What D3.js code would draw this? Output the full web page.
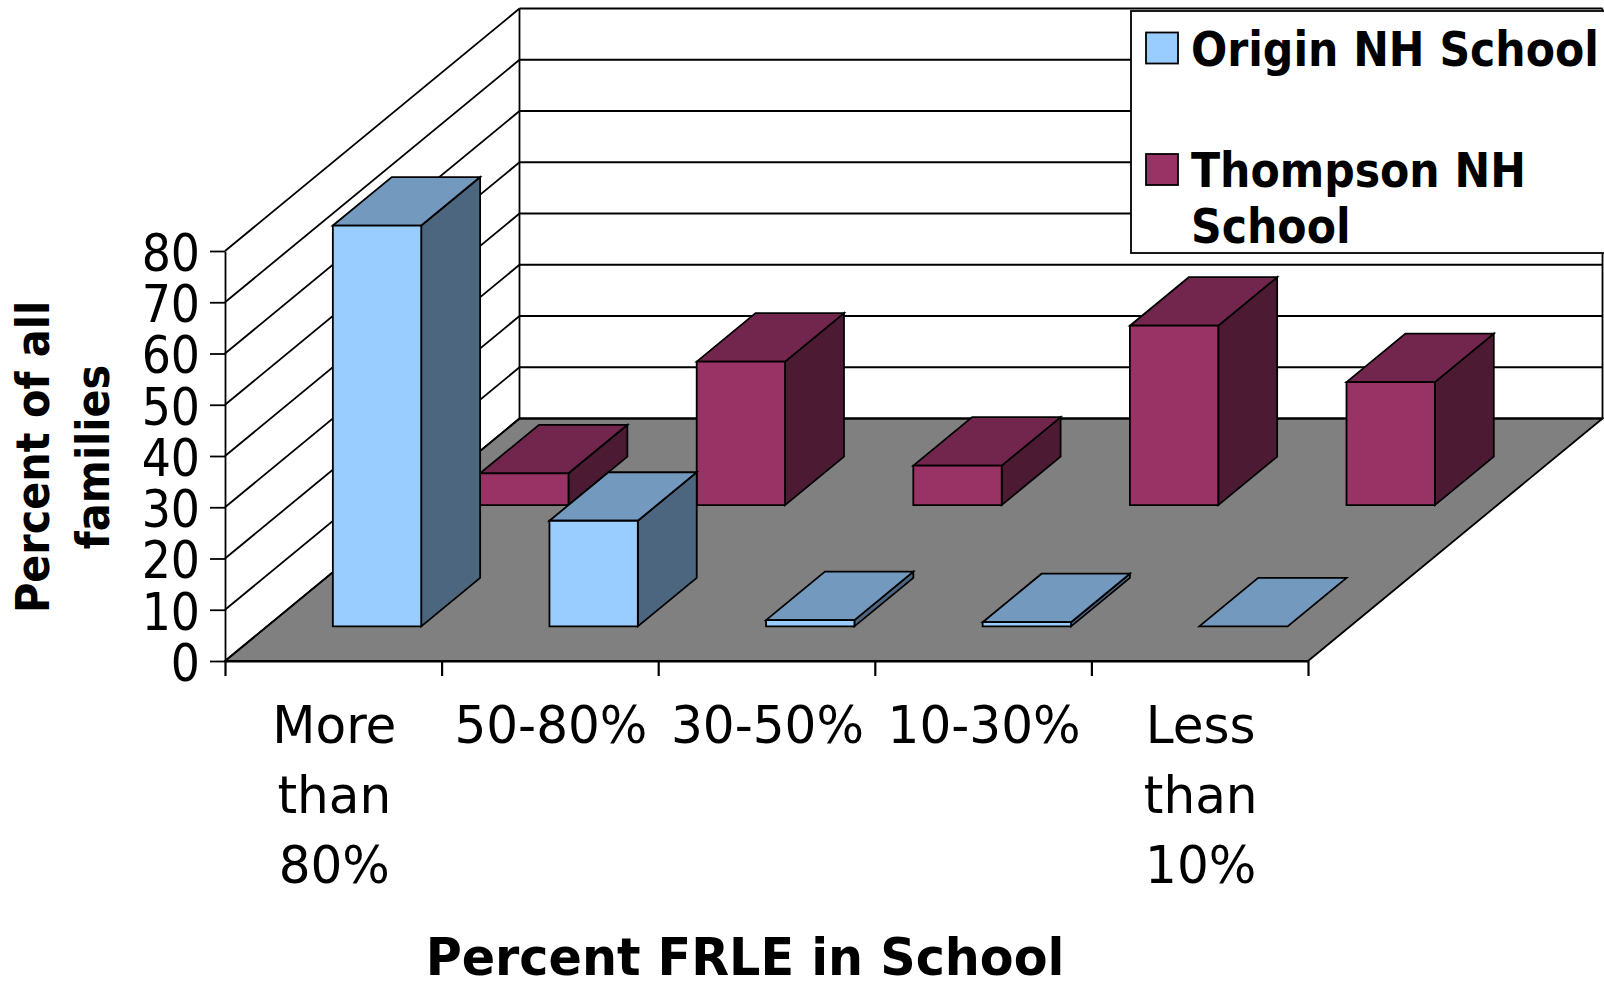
<!DOCTYPE html>
<html>
<head>
<meta charset="utf-8">
<title>Percent FRLE in School</title>
<script src="https://cdn.jsdelivr.net/npm/d3@7"></script>
<style>
  body { margin: 0; background: #fff; }
  text { font-family: "DejaVu Sans Condensed", "DejaVu Sans", sans-serif; font-stretch: condensed; fill: #000; }
</style>
</head>
<body>
<div id="chart"></div>
<script>
// 3D column chart - two series standing one behind the other on a grey floor

const categories = ["More than 80%", "50-80%", "30-50%", "10-30%", "Less than 10%"];
const seriesNames = ["Thompson NH School", "Origin NH School"]; // back row first
const originValues = [78.2, 20.6, 1.2, 0.8, 0];
const thompsonValues = [6.2, 28, 7.7, 35, 24];
const yTicks = [0, 10, 20, 30, 40, 50, 60, 70, 80];

const width = 1604;
const height = 981;

const seriesValues = { "Origin NH School": originValues, "Thompson NH School": thompsonValues };
const seriesColors = {
  "Origin NH School": { front: "#99ccff", top: "#7399bf", side: "#4d6680" },
  "Thompson NH School": { front: "#993366", top: "#73264d", side: "#4d1a33" }
};

const svg = d3.select("#chart")
  .append("svg")
  .attr("width", width)
  .attr("height", height)
  .style("display", "block");

const x = d3.scaleLinear().domain([0, categories.length]).range([225, 1308]);
const y = d3.scaleLinear().domain([0, 80]).range([661, 251]);
// depth runs from the front edge of the floor (0) to the back wall (1)
const depth = { dx: 294.5, dy: -242.5 };
const zBand = d3.scaleBand()
  .domain(["Origin NH School", "Thompson NH School"])
  .range([-0.004, 0.99])
  .paddingInner(0.6)
  .paddingOuter(0.294);

function pt(xv, v, z) {
  return [x(xv) + depth.dx * z, y(v) + depth.dy * z];
}
function poly(points) {
  return "M" + points.map(p => p.join(",")).join("L") + "Z";
}

const stroke = "#000";
const lineW = 1.8;

// walls and floor
const walls = svg.append("g");
walls.append("path")
  .attr("d", poly([pt(0, 0, 0), pt(0, 0, 1), pt(5, 0, 1), pt(5, 0, 0)]))
  .attr("fill", "#808080")
  .attr("stroke", stroke)
  .attr("stroke-width", lineW);

walls.selectAll(".grid-side")
  .data(yTicks)
  .join("line")
  .attr("class", "grid-side")
  .attr("x1", d => pt(0, d, 0)[0])
  .attr("y1", d => pt(0, d, 0)[1])
  .attr("x2", d => pt(0, d, 1)[0])
  .attr("y2", d => pt(0, d, 1)[1])
  .attr("stroke", stroke)
  .attr("stroke-width", lineW);

walls.selectAll(".grid-back")
  .data(yTicks)
  .join("line")
  .attr("class", "grid-back")
  .attr("x1", d => pt(0, d, 1)[0])
  .attr("y1", d => pt(0, d, 1)[1])
  .attr("x2", d => pt(5, d, 1)[0])
  .attr("y2", d => pt(5, d, 1)[1])
  .attr("stroke", stroke)
  .attr("stroke-width", lineW);

[0, 5].forEach(c => {
  walls.append("line")
    .attr("x1", pt(c, 0, 1)[0])
    .attr("y1", pt(c, 0, 1)[1])
    .attr("x2", pt(c, 80, 1)[0])
    .attr("y2", pt(c, 80, 1)[1])
    .attr("stroke", stroke)
    .attr("stroke-width", lineW);
});

// axes
const yAxis = svg.append("g")
  .attr("transform", `translate(${x(0)},0)`)
  .call(d3.axisLeft(y).tickValues(yTicks).tickSize(15).tickSizeOuter(0).tickPadding(10));
yAxis.selectAll("path, line").attr("stroke", stroke).attr("stroke-width", lineW);
yAxis.selectAll("text")
  .attr("font-size", 51)
  .attr("dy", "0.38em")
  .style("font-family", '"DejaVu Sans Condensed", "DejaVu Sans", sans-serif');

const xAxis = svg.append("g")
  .attr("transform", `translate(0,${y(0)})`)
  .call(d3.axisBottom(x).tickValues(d3.range(categories.length + 1)).tickSize(15).tickSizeOuter(0).tickFormat(""));
xAxis.selectAll("path, line").attr("stroke", stroke).attr("stroke-width", 2.2);

// columns, back row first so the front row paints over it
const barStart = 0.3035;
const barEnd = 0.7115;
function drawBar(g, i, value, name) {
  const c = seriesColors[name];
  const z0 = zBand(name);
  const z1 = z0 + zBand.bandwidth();
  const xa = i + barStart;
  const xb = i + barEnd;
  const faces = [
    { pts: [pt(xb, 0, z0), pt(xb, 0, z1), pt(xb, value, z1), pt(xb, value, z0)], fill: c.side },
    { pts: [pt(xa, value, z0), pt(xa, value, z1), pt(xb, value, z1), pt(xb, value, z0)], fill: c.top },
    { pts: [pt(xa, 0, z0), pt(xb, 0, z0), pt(xb, value, z0), pt(xa, value, z0)], fill: c.front }
  ];
  g.selectAll("path")
    .data(value > 0 ? faces : faces.slice(1, 2))
    .join("path")
    .attr("d", d => poly(d.pts))
    .attr("fill", d => d.fill)
    .attr("stroke", stroke)
    .attr("stroke-width", lineW)
    .attr("stroke-linejoin", "miter");
}

seriesNames.forEach(name => {
  seriesValues[name].forEach((v, i) => {
    drawBar(svg.append("g").attr("class", "bar"), i, v, name);
  });
});

// category labels, wrapped word by word and widened a little
categories.forEach((cat, i) => {
  svg.selectAll(".cat-" + i)
    .data(cat.split(" "))
    .join("text")
    .attr("class", "cat-" + i)
    .attr("text-anchor", "middle")
    .attr("font-size", 52)
    .attr("transform", (w, j) => `translate(${x(i + 0.5) + 1},${743 + j * 70}) scale(1.07,1)`)
    .text(w => w);
});

svg.append("text")
  .attr("transform", "translate(745,975) scale(1.052,1)")
  .attr("text-anchor", "middle")
  .attr("font-size", 52)
  .attr("font-weight", 700)
  .text("Percent FRLE in School");

const yTitle = svg.append("text")
  .attr("transform", "translate(0,457) rotate(-90)")
  .attr("text-anchor", "middle")
  .attr("font-size", 46)
  .attr("font-weight", 700);
yTitle.append("tspan").attr("x", 0).attr("y", 49).text("Percent of all");
yTitle.append("tspan").attr("x", 0).attr("y", 109).text("families");

// legend
const legend = svg.append("g");
legend.append("rect")
  .attr("x", 1131)
  .attr("y", 11)
  .attr("width", 480)
  .attr("height", 242)
  .attr("fill", "#fff")
  .attr("stroke", stroke)
  .attr("stroke-width", lineW);

const legendNames = ["Origin NH School", "Thompson NH School"];
const legendSwatchY = [32.5, 154];
legendNames.forEach((name, i) => {
  legend.append("rect")
    .attr("x", 1146)
    .attr("y", legendSwatchY[i])
    .attr("width", 32)
    .attr("height", 31)
    .attr("fill", seriesColors[name].front)
    .attr("stroke", stroke)
    .attr("stroke-width", lineW);
});
const legendLines = [["Origin NH School", 66], ["Thompson NH", 187], ["School", 243]];
legend.selectAll(".legend-label")
  .data(legendLines)
  .join("text")
  .attr("class", "legend-label")
  .attr("x", 1191)
  .attr("y", d => d[1])
  .attr("font-size", 47.4)
  .attr("font-weight", 700)
  .text(d => d[0]);
</script>
</body>
</html>
